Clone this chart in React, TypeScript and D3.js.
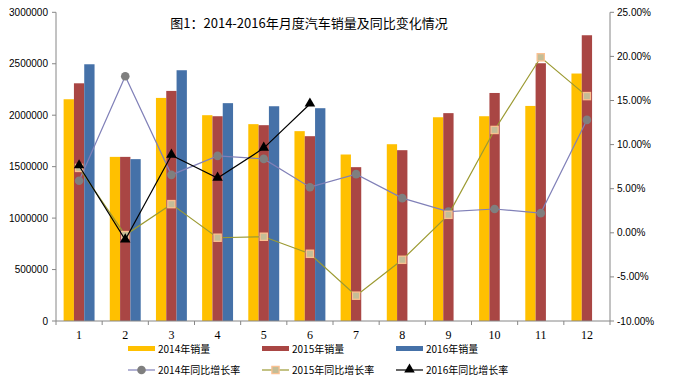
import React from "react";
import * as d3 from "d3";

const months = ["1", "2", "3", "4", "5", "6", "7", "8", "9", "10", "11", "12"];
const sales2014 = [2155000, 1595000, 2168000, 2000000, 1913000, 1845000, 1618000, 1718000, 1980000, 1990000, 2090000, 2405000];
const sales2015 = [2310000, 1595000, 2236000, 1990000, 1903000, 1796000, 1495000, 1660000, 2020000, 2216000, 2505000, 2777000];
const sales2016 = [2495000, 1573000, 2437000, 2117000, 2087000, 2068000];
const growth2014 = [5.9, 17.75, 6.57, 8.72, 8.38, 5.17, 6.65, 3.93, 2.4, 2.7, 2.23, 12.8];
const growth2015 = [7.36, -0.26, 3.25, -0.56, -0.45, -2.38, -7.13, -3.06, 2.04, 11.66, 19.9, 15.5];
const growth2016 = [7.6, -0.8, 8.8, 6.2, 9.6, 14.6];
const leftTicks = [0, 500000, 1000000, 1500000, 2000000, 2500000, 3000000];
const rightTicks = [-10, -5, 0, 5, 10, 15, 20, 25];
const barNames = ["2014年销量", "2015年销量", "2016年销量"];
const lineNames = ["2014年同比增长率", "2015年同比增长率", "2016年同比增长率"];
const title = "图1：2014-2016年月度汽车销量及同比变化情况";

const W = 674, H = 391;
const L = 56, R = 610, T = 12.3, B = 321;
const barColors = ["#FFC000", "#A94644", "#4571A8"];
const axisColor = "#868686";
const cjk = "'Noto Sans CJK SC', 'Liberation Sans', sans-serif";

export default function App() {
  const x = d3.scaleBand<string>().domain(months).range([L, R]).paddingInner(0.33).paddingOuter(0.165);
  const xs = d3.scaleBand<number>().domain([0, 1, 2]).range([0, x.bandwidth()]);
  const yL = d3.scaleLinear().domain([0, 3000000]).range([B, T]);
  const yR = d3.scaleLinear().domain([-10, 25]).range([B, T]);
  const cx = (i: number) => (x(months[i]) as number) + x.bandwidth() / 2;

  const salesSeries = [sales2014, sales2015, sales2016];
  const growthSeries = [growth2014, growth2015, growth2016];
  const lineColors = ["#8080B8", "#9C9A32", "#000000"];
  const line = d3.line<number>().x((_, i) => cx(i)).y((d) => yR(d));
  const step = x.step();
  const tri = d3.symbol().type(d3.symbolTriangle).size(48)();

  const marker = (k: number, px: number, py: number, key: string) => {
    if (k === 0) return <circle key={key} cx={px} cy={py} r={4.3} fill="#7F7F7F" />;
    if (k === 1) return <rect key={key} x={px - 3.6} y={py - 3.6} width={7.2} height={7.2} fill="#C4BD97" stroke="#FAC090" strokeWidth={1.3} />;
    return <path key={key} d={tri as string} transform={`translate(${px},${py - 0.5})`} fill="#000" />;
  };

  return (
    <svg width={W} height={H} style={{ position: "absolute", left: 0, top: 0, background: "#fff" }}>
      <text x={309} y={28} textAnchor="middle" fontFamily={cjk} fontSize={13} fill="#000">{title}</text>
      {/* bars */}
      {salesSeries.map((s, k) =>
        s.map((v, i) => (
          <rect key={`b${k}-${i}`} x={(x(months[i]) as number) + (xs(k) as number)} y={yL(v)} width={xs.bandwidth()} height={B - yL(v)} fill={barColors[k]} />
        ))
      )}
      {/* axes */}
      <line x1={L} x2={L} y1={T} y2={B} stroke={axisColor} />
      <line x1={R} x2={R} y1={T} y2={B} stroke={axisColor} />
      <line x1={L} x2={R} y1={B} y2={B} stroke={axisColor} />
      {leftTicks.map((t) => (
        <g key={`lt${t}`}>
          <line x1={L - 4} x2={L} y1={yL(t)} y2={yL(t)} stroke={axisColor} />
          <text x={L - 8} y={yL(t) + 3.5} textAnchor="end" fontFamily="'Liberation Sans', sans-serif" fontSize={10} fill="#000">{t}</text>
        </g>
      ))}
      {rightTicks.map((t) => (
        <g key={`rt${t}`}>
          <line x1={R} x2={R + 4} y1={yR(t)} y2={yR(t)} stroke={axisColor} />
          <text x={R + 7} y={yR(t) + 3.5} textAnchor="start" fontFamily="'Liberation Sans', sans-serif" fontSize={10} fill="#000">{t.toFixed(2) + "%"}</text>
        </g>
      ))}
      {d3.range(months.length + 1).map((i) => (
        <line key={`xt${i}`} x1={L + i * step} x2={L + i * step} y1={B} y2={B + 4} stroke={axisColor} />
      ))}
      {months.map((m, i) => (
        <text key={`xl${m}`} x={cx(i)} y={339} textAnchor="middle" fontFamily="'Liberation Serif', serif" fontSize={12} fill="#000">{m}</text>
      ))}
      {/* lines */}
      {growthSeries.map((s, k) => (
        <g key={`ln${k}`}>
          <path d={line(s) as string} fill="none" stroke={lineColors[k]} strokeWidth={1.2} />
          {s.map((v, i) => marker(k, cx(i), yR(v), `m${k}-${i}`))}
        </g>
      ))}
      {/* legend */}
      {barNames.map((n, k) => {
        const lx = 128 + k * 134;
        return (
          <g key={`lb${k}`}>
            <rect x={lx} y={346} width={27} height={5} fill={barColors[k]} />
            <text x={lx + 30} y={352.5} fontFamily={cjk} fontSize={10} fill="#000">{n}</text>
          </g>
        );
      })}
      {lineNames.map((n, k) => {
        const lx = 128 + k * 134;
        return (
          <g key={`ll${k}`}>
            <line x1={lx} x2={lx + 27} y1={370} y2={370} stroke={lineColors[k]} strokeWidth={1.2} />
            {marker(k, lx + 13.5, 370, `lm${k}`)}
            <text x={lx + 30} y={373.5} fontFamily={cjk} fontSize={10} fill="#000">{n}</text>
          </g>
        );
      })}
    </svg>
  );
}
